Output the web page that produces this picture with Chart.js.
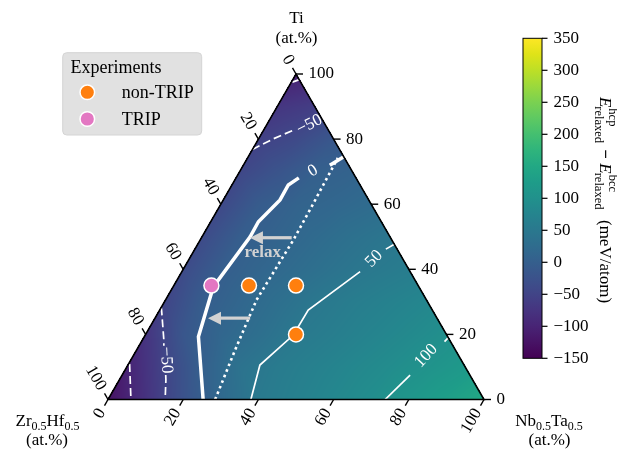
<!DOCTYPE html>
<html>
<head>
<meta charset="utf-8">
<script src="https://cdn.jsdelivr.net/npm/chart.js@4.4.1/dist/chart.umd.min.js"></script>
<style>
  html, body { margin: 0; padding: 0; background: #fff; }
</style>
</head>
<body>
<canvas id="chart" width="617" height="450"></canvas>
<script>
// every ternary point is [Ti, Nb0.5Ta0.5] in at.%, Zr0.5Hf0.5 = 100 - Ti - Nb
const axisTicks = [0, 20, 40, 60, 80, 100];
const cbarTicks = [-150, -100, -50, 0, 50, 100, 150, 200, 250, 300, 350];
const cbarMin = -150;
const cbarMax = 350;

const nonTripPoints = [[35, 20], [35, 32.5], [20, 40]];
const tripPoints = [[35, 10]];

// E_hcp - E_bcc (relaxed, meV/atom) on a 10 at.% grid
// row = Ti 0..100, column = Nb 0..(100 - Ti)
const energyGrid = [
    [-125, -78, -25, 19, 53, 67, 81, 94, 112, 130, 150],
    [-102, -50, 1, 38, 56, 68, 80, 91, 104, 118],
    [-75, -17, 14, 31, 51, 62, 74, 85, 97],
    [-48, -5, 14, 31, 48, 60, 70, 80],
    [-38, -3, 12, 25, 39, 51, 60],
    [-38, -3, 9, 22, 35, 46],
    [-42, -7, 8, 15, 24],
    [-45, -22, 1, 8],
    [-55, -40, -15],
    [-72, -60],
    [-105]
];

// contour lines (split where the inline labels sit)
const zeroRelaxedLow = [[0, 25.3], [19.3, 14.4], [34.6, 10.7], [50, 12.8], [54.6, 12.7], [61.3, 15.1], [65.9, 15], [68.1, 16.7]];
const zeroRelaxedHigh = [[72, 23], [74.6, 25.4]];
const zeroUnrelaxed = [[0, 28.5], [15.2, 26.2], [30.6, 24.2], [49, 24.8], [60.3, 24.5], [74.2, 24]];
const plus50Low = [[0, 38], [10.6, 35.1], [19.8, 39.4], [27.5, 39.5], [39.3, 47.4]];
const plus50High = [[46.2, 50.8], [47.7, 52.3]];
const plus100Low = [[0, 73.7], [7.5, 76.6]];
const plus100High = [[17.8, 80.6], [19, 81]];
const minus50Top = [[76.8, 0], [80, 3.8], [82.8, 8]];
const minus50LeftA = [[28.3, 0], [27.5, 0.5], [18.3, 5.7], [16.5, 6.6]];
const minus50LeftB = [[7.5, 11.6], [6, 12.4], [0, 15.2]];
const minus100Left = [[10.9, 0.3], [0, 6.1]];
const minus100Top = [[97.5, 0.3], [98.2, 1.6]];

const contourLabels = [
    { text: "\u221250", at: [84.4, 11.4], angle: -27 },
    { text: "0", at: [70.2, 19.4], angle: -30 },
    { text: "50", at: [43.2, 49.2], angle: -45 },
    { text: "100", at: [13.4, 77.9], angle: -47 },
    { text: "\u221250", at: [12.1, 9.4], angle: 87 }
];

// shift of the E = 0 boundary after relaxation
const relaxArrows = [[[49.7, 24], [49.7, 12.9]], [[25, 25.3], [25, 14.1]]];
const relaxText = [45.1, 18.6];

const viridisHex = ["#440154", "#471365", "#482475", "#463480", "#414487", "#3b528b", "#355f8d",
    "#2f6c8e", "#2a788e", "#25848e", "#21918c", "#1e9c89", "#22a884", "#2fb47c", "#44bf70",
    "#5ec962", "#7ad151", "#9bd93c", "#bddf26", "#dfe318", "#fde725"];
const viridisRgb = viridisHex.map(h => [1, 3, 5].map(i => parseInt(h.substr(i, 2), 16)));

const serif = "'Liberation Serif', 'Times New Roman', serif";

const toXY = ([ti, nb]) => ({ x: (nb + ti / 2) / 100, y: ti / 100 });

const viridis = (f) => {
    f = Math.max(0, Math.min(1, f));
    const n = viridisRgb.length - 1;
    const k = Math.min(Math.floor(f * n), n - 1);
    const u = f * n - k;
    const a = viridisRgb[k], b = viridisRgb[k + 1];
    return [0, 1, 2].map(c => a[c] + (b[c] - a[c]) * u);
};

const gridVal = (i, j) => energyGrid[i][j];

const energyAt = (ti, nb) => {
    let T = Math.max(0, Math.min(10, ti / 10));
    let B = Math.max(0, Math.min(10 - T, nb / 10));
    let i = Math.min(Math.floor(T), 9);
    let j = Math.min(Math.floor(B), 9 - i);
    let ft = T - i, fb = B - j;
    if (ft + fb <= 1 || i + j >= 9) {
        const s = ft + fb;
        if (s > 1) { ft /= s; fb /= s; }
        return gridVal(i, j) * (1 - ft - fb) + gridVal(i + 1, j) * ft + gridVal(i, j + 1) * fb;
    }
    return gridVal(i + 1, j + 1) * (ft + fb - 1) + gridVal(i + 1, j) * (1 - fb) + gridVal(i, j + 1) * (1 - ft);
};

const lineSet = (pts, width, dash) => ({
    data: pts.map(toXY),
    showLine: true,
    borderColor: "#ffffff",
    borderWidth: width,
    borderDash: dash || [],
    pointRadius: 0,
    pointHoverRadius: 0,
    fill: false,
    tension: 0
});

const pointSet = (pts, color) => ({
    data: pts.map(toXY),
    pointRadius: 7.5,
    pointHoverRadius: 7.5,
    backgroundColor: color,
    borderColor: "#ffffff",
    borderWidth: 1.5
});

const pix = (chart, ti, nb) => {
    const p = toXY([ti, nb]);
    return { x: chart.scales.x.getPixelForValue(p.x), y: chart.scales.y.getPixelForValue(p.y) };
};

const fieldPlugin = {
    id: "field",
    beforeDatasetsDraw(chart) {
        const { ctx, chartArea: a, scales: { x, y } } = chart;
        const x0 = Math.floor(a.left) - 1, y0 = Math.floor(a.top) - 1;
        const w = Math.ceil(a.right) - x0 + 2, h = Math.ceil(a.bottom) - y0 + 2;
        const off = document.createElement("canvas");
        off.width = w; off.height = h;
        const octx = off.getContext("2d");
        const img = octx.createImageData(w, h);
        for (let py = 0; py < h; py++) {
            const ti = y.getValueForPixel(y0 + py + 0.5) * 100;
            for (let px = 0; px < w; px++) {
                const nb = x.getValueForPixel(x0 + px + 0.5) * 100 - ti / 2;
                if (ti < -0.2 || nb < -0.2 || ti + nb > 100.2) continue;
                const c = viridis((energyAt(ti, nb) - cbarMin) / (cbarMax - cbarMin));
                const k = (py * w + px) * 4;
                img.data[k] = c[0]; img.data[k + 1] = c[1]; img.data[k + 2] = c[2]; img.data[k + 3] = 255;
            }
        }
        octx.putImageData(img, 0, 0);
        ctx.drawImage(off, x0, y0);
    }
};

const framePlugin = {
    id: "frame",
    afterDatasetsDraw(chart) {
        const ctx = chart.ctx;
        ctx.save();

        // contour labels
        ctx.fillStyle = "#ffffff";
        ctx.font = "17px " + serif;
        ctx.textAlign = "center";
        ctx.textBaseline = "middle";
        contourLabels.forEach(l => {
            const p = pix(chart, l.at[0], l.at[1]);
            ctx.save();
            ctx.translate(p.x, p.y);
            ctx.rotate(l.angle * Math.PI / 180);
            ctx.fillText(l.text, 0, 0);
            ctx.restore();
        });

        // relaxation arrows
        ctx.fillStyle = "#d2d2d2";
        ctx.strokeStyle = "#d2d2d2";
        relaxArrows.forEach(([from, to]) => {
            const a = pix(chart, from[0], from[1]);
            const b = pix(chart, to[0], to[1]);
            const head = 12;
            ctx.lineWidth = 3.2;
            ctx.beginPath();
            ctx.moveTo(a.x, a.y);
            ctx.lineTo(b.x + head, b.y);
            ctx.stroke();
            ctx.beginPath();
            ctx.moveTo(b.x, b.y);
            ctx.lineTo(b.x + head + 1, b.y - 6.5);
            ctx.lineTo(b.x + head + 1, b.y + 6.5);
            ctx.closePath();
            ctx.fill();
        });
        const rt = pix(chart, relaxText[0], relaxText[1]);
        ctx.font = "bold 17px " + serif;
        ctx.fillText("relax", rt.x, rt.y);

        // triangle frame
        const A = pix(chart, 0, 0), B = pix(chart, 0, 100), C = pix(chart, 100, 0);
        ctx.strokeStyle = "#000000";
        ctx.lineWidth = 1.6;
        ctx.beginPath();
        ctx.moveTo(A.x, A.y); ctx.lineTo(B.x, B.y); ctx.lineTo(C.x, C.y); ctx.closePath();
        ctx.stroke();

        // ticks and tick labels
        const s3 = Math.sqrt(3) / 2;
        ctx.fillStyle = "#000000";
        ctx.font = "17px " + serif;
        ctx.textBaseline = "middle";
        ctx.lineWidth = 1.4;
        axisTicks.forEach(v => {
            // Ti, right edge
            let p = pix(chart, v, 100 - v);
            ctx.beginPath(); ctx.moveTo(p.x, p.y); ctx.lineTo(p.x + 7, p.y); ctx.stroke();
            ctx.textAlign = "left";
            ctx.fillText(String(v), p.x + 12.5, p.y);

            // Zr0.5Hf0.5, left edge
            p = pix(chart, 100 - v, 0);
            ctx.beginPath(); ctx.moveTo(p.x, p.y); ctx.lineTo(p.x - 0.5 * 7, p.y - s3 * 7); ctx.stroke();
            ctx.save();
            ctx.translate(p.x - 0.5 * 12, p.y - s3 * 12);
            ctx.rotate(Math.PI / 3);
            ctx.textAlign = "right";
            ctx.fillText(String(v), 0, 0);
            ctx.restore();

            // Nb0.5Ta0.5, bottom edge
            p = pix(chart, 0, v);
            ctx.beginPath(); ctx.moveTo(p.x, p.y); ctx.lineTo(p.x - 0.5 * 7, p.y + s3 * 7); ctx.stroke();
            ctx.save();
            ctx.translate(p.x - 0.5 * 12, p.y + s3 * 12);
            ctx.rotate(-Math.PI / 3);
            ctx.textAlign = "right";
            ctx.fillText(String(v), 0, 0);
            ctx.restore();
        });
        ctx.restore();
    },
    afterDraw(chart) {
        const ctx = chart.ctx;
        ctx.save();
        ctx.fillStyle = "#000000";
        ctx.textBaseline = "alphabetic";

        // text with subscripts: parts = [[text, isSub]]
        const subText = (parts, cx, base, size) => {
            const subSize = Math.round(size * 0.7);
            let total = 0;
            parts.forEach(([t, sub]) => {
                ctx.font = (sub ? subSize : size) + "px " + serif;
                total += ctx.measureText(t).width;
            });
            let x = cx - total / 2;
            ctx.textAlign = "left";
            parts.forEach(([t, sub]) => {
                ctx.font = (sub ? subSize : size) + "px " + serif;
                ctx.fillText(t, x, base + (sub ? 4 : 0));
                x += ctx.measureText(t).width;
            });
        };

        // axis titles
        ctx.font = "17px " + serif;
        ctx.textAlign = "center";
        ctx.fillText("Ti", 296.5, 23);
        ctx.fillText("(at.%)", 296.5, 43);
        subText([["Zr", false], ["0.5", true], ["Hf", false], ["0.5", true]], 47.5, 426, 17);
        ctx.font = "17px " + serif;
        ctx.textAlign = "center";
        ctx.fillText("(at.%)", 47, 445);
        subText([["Nb", false], ["0.5", true], ["Ta", false], ["0.5", true]], 549, 426, 17);
        ctx.font = "17px " + serif;
        ctx.textAlign = "center";
        ctx.fillText("(at.%)", 549.5, 445);

        // colour bar
        const cb = { left: 523, right: 542, top: 38.3, bottom: 358.3 };
        const grad = ctx.createLinearGradient(0, cb.bottom, 0, cb.top);
        viridisHex.forEach((h, i) => grad.addColorStop(i / (viridisHex.length - 1), h));
        ctx.fillStyle = grad;
        ctx.fillRect(cb.left, cb.top, cb.right - cb.left, cb.bottom - cb.top);
        ctx.strokeStyle = "#000000";
        ctx.lineWidth = 1;
        ctx.strokeRect(cb.left, cb.top, cb.right - cb.left, cb.bottom - cb.top);
        ctx.fillStyle = "#000000";
        ctx.font = "17px " + serif;
        ctx.textAlign = "left";
        ctx.textBaseline = "middle";
        ctx.lineWidth = 1.2;
        cbarTicks.forEach(v => {
            const yy = cb.bottom - (v - cbarMin) / (cbarMax - cbarMin) * (cb.bottom - cb.top);
            ctx.beginPath(); ctx.moveTo(cb.right, yy); ctx.lineTo(cb.right + 5.5, yy); ctx.stroke();
            ctx.fillText(v < 0 ? "\u2212" + Math.abs(v) : String(v), 553.5, yy);
        });

        // colour bar label, rotated
        ctx.save();
        ctx.translate(600, 200);
        ctx.rotate(Math.PI / 2);
        ctx.textBaseline = "alphabetic";
        const big = "italic 17px " + serif, small = "12.5px " + serif, norm = "17px " + serif;
        const pieces = [
            { t: "E", f: big, sup: "hcp", sub: "relaxed" },
            { t: " \u2212 ", f: "bold 17px " + serif },
            { t: "E", f: big, sup: "bcc", sub: "relaxed" },
            { t: "  (meV/atom)", f: norm }
        ];
        const widthOf = (pc) => {
            ctx.font = pc.f;
            let w = ctx.measureText(pc.t).width;
            if (pc.sup) {
                ctx.font = small;
                w += Math.max(ctx.measureText(pc.sup).width, ctx.measureText(pc.sub).width) + 1;
            }
            return w;
        };
        let total = pieces.reduce((s, pc) => s + widthOf(pc), 0);
        let xx = -total / 2;
        ctx.textAlign = "left";
        pieces.forEach(pc => {
            ctx.font = pc.f;
            ctx.fillText(pc.t, xx, 0);
            const w0 = ctx.measureText(pc.t).width;
            if (pc.sup) {
                ctx.font = small;
                ctx.fillText(pc.sup, xx + w0 + 1, -9);
                ctx.fillText(pc.sub, xx + w0 - 1, 5);
            }
            xx += widthOf(pc);
        });
        ctx.restore();

        // legend
        const lx = 62.7, ly = 52.7, lw = 139, lh = 82.3;
        ctx.fillStyle = "#e1e1e1";
        ctx.strokeStyle = "#d4d4d4";
        ctx.lineWidth = 1;
        ctx.beginPath();
        ctx.roundRect(lx, ly, lw, lh, 4);
        ctx.fill();
        ctx.stroke();
        ctx.fillStyle = "#000000";
        ctx.font = "18px " + serif;
        ctx.textAlign = "left";
        ctx.textBaseline = "alphabetic";
        ctx.fillText("Experiments", 70.5, 72.5);
        const entries = [["non-TRIP", "#ff7f0e", 92.3], ["TRIP", "#e377c2", 119]];
        entries.forEach(([label, color, yy]) => {
            ctx.beginPath();
            ctx.arc(87.3, yy, 7.3, 0, Math.PI * 2);
            ctx.fillStyle = color;
            ctx.fill();
            ctx.strokeStyle = "#ffffff";
            ctx.lineWidth = 1.5;
            ctx.stroke();
            ctx.fillStyle = "#000000";
            ctx.textBaseline = "middle";
            ctx.fillText(label, 121.7, yy + 1);
        });
        ctx.restore();
    }
};

new Chart("chart", {
    type: "scatter",
    data: {
        datasets: [
            pointSet(tripPoints, "#e377c2"),
            pointSet(nonTripPoints, "#ff7f0e"),
            lineSet(zeroRelaxedLow, 3.5),
            lineSet(zeroRelaxedHigh, 3.5),
            lineSet(zeroUnrelaxed, 2.6, [2.6, 3.4]),
            lineSet(plus50Low, 1.7),
            lineSet(plus50High, 1.7),
            lineSet(plus100Low, 1.7),
            lineSet(plus100High, 1.7),
            lineSet(minus50Top, 1.7, [8, 4]),
            lineSet(minus50LeftA, 1.7, [8, 4]),
            lineSet(minus50LeftB, 1.7, [8, 4]),
            lineSet(minus100Left, 1.7, [8, 4]),
            lineSet(minus100Top, 1.7)
        ]
    },
    options: {
        responsive: false,
        animation: false,
        events: [],
        layout: { padding: { left: 108, right: 133, top: 74, bottom: 50.5 } },
        scales: {
            x: { type: "linear", min: 0, max: 1, display: false },
            y: { type: "linear", min: 0, max: 1, display: false }
        },
        plugins: {
            legend: { display: false },
            tooltip: { enabled: false }
        }
    },
    plugins: [fieldPlugin, framePlugin]
});
</script>
</body>
</html>
